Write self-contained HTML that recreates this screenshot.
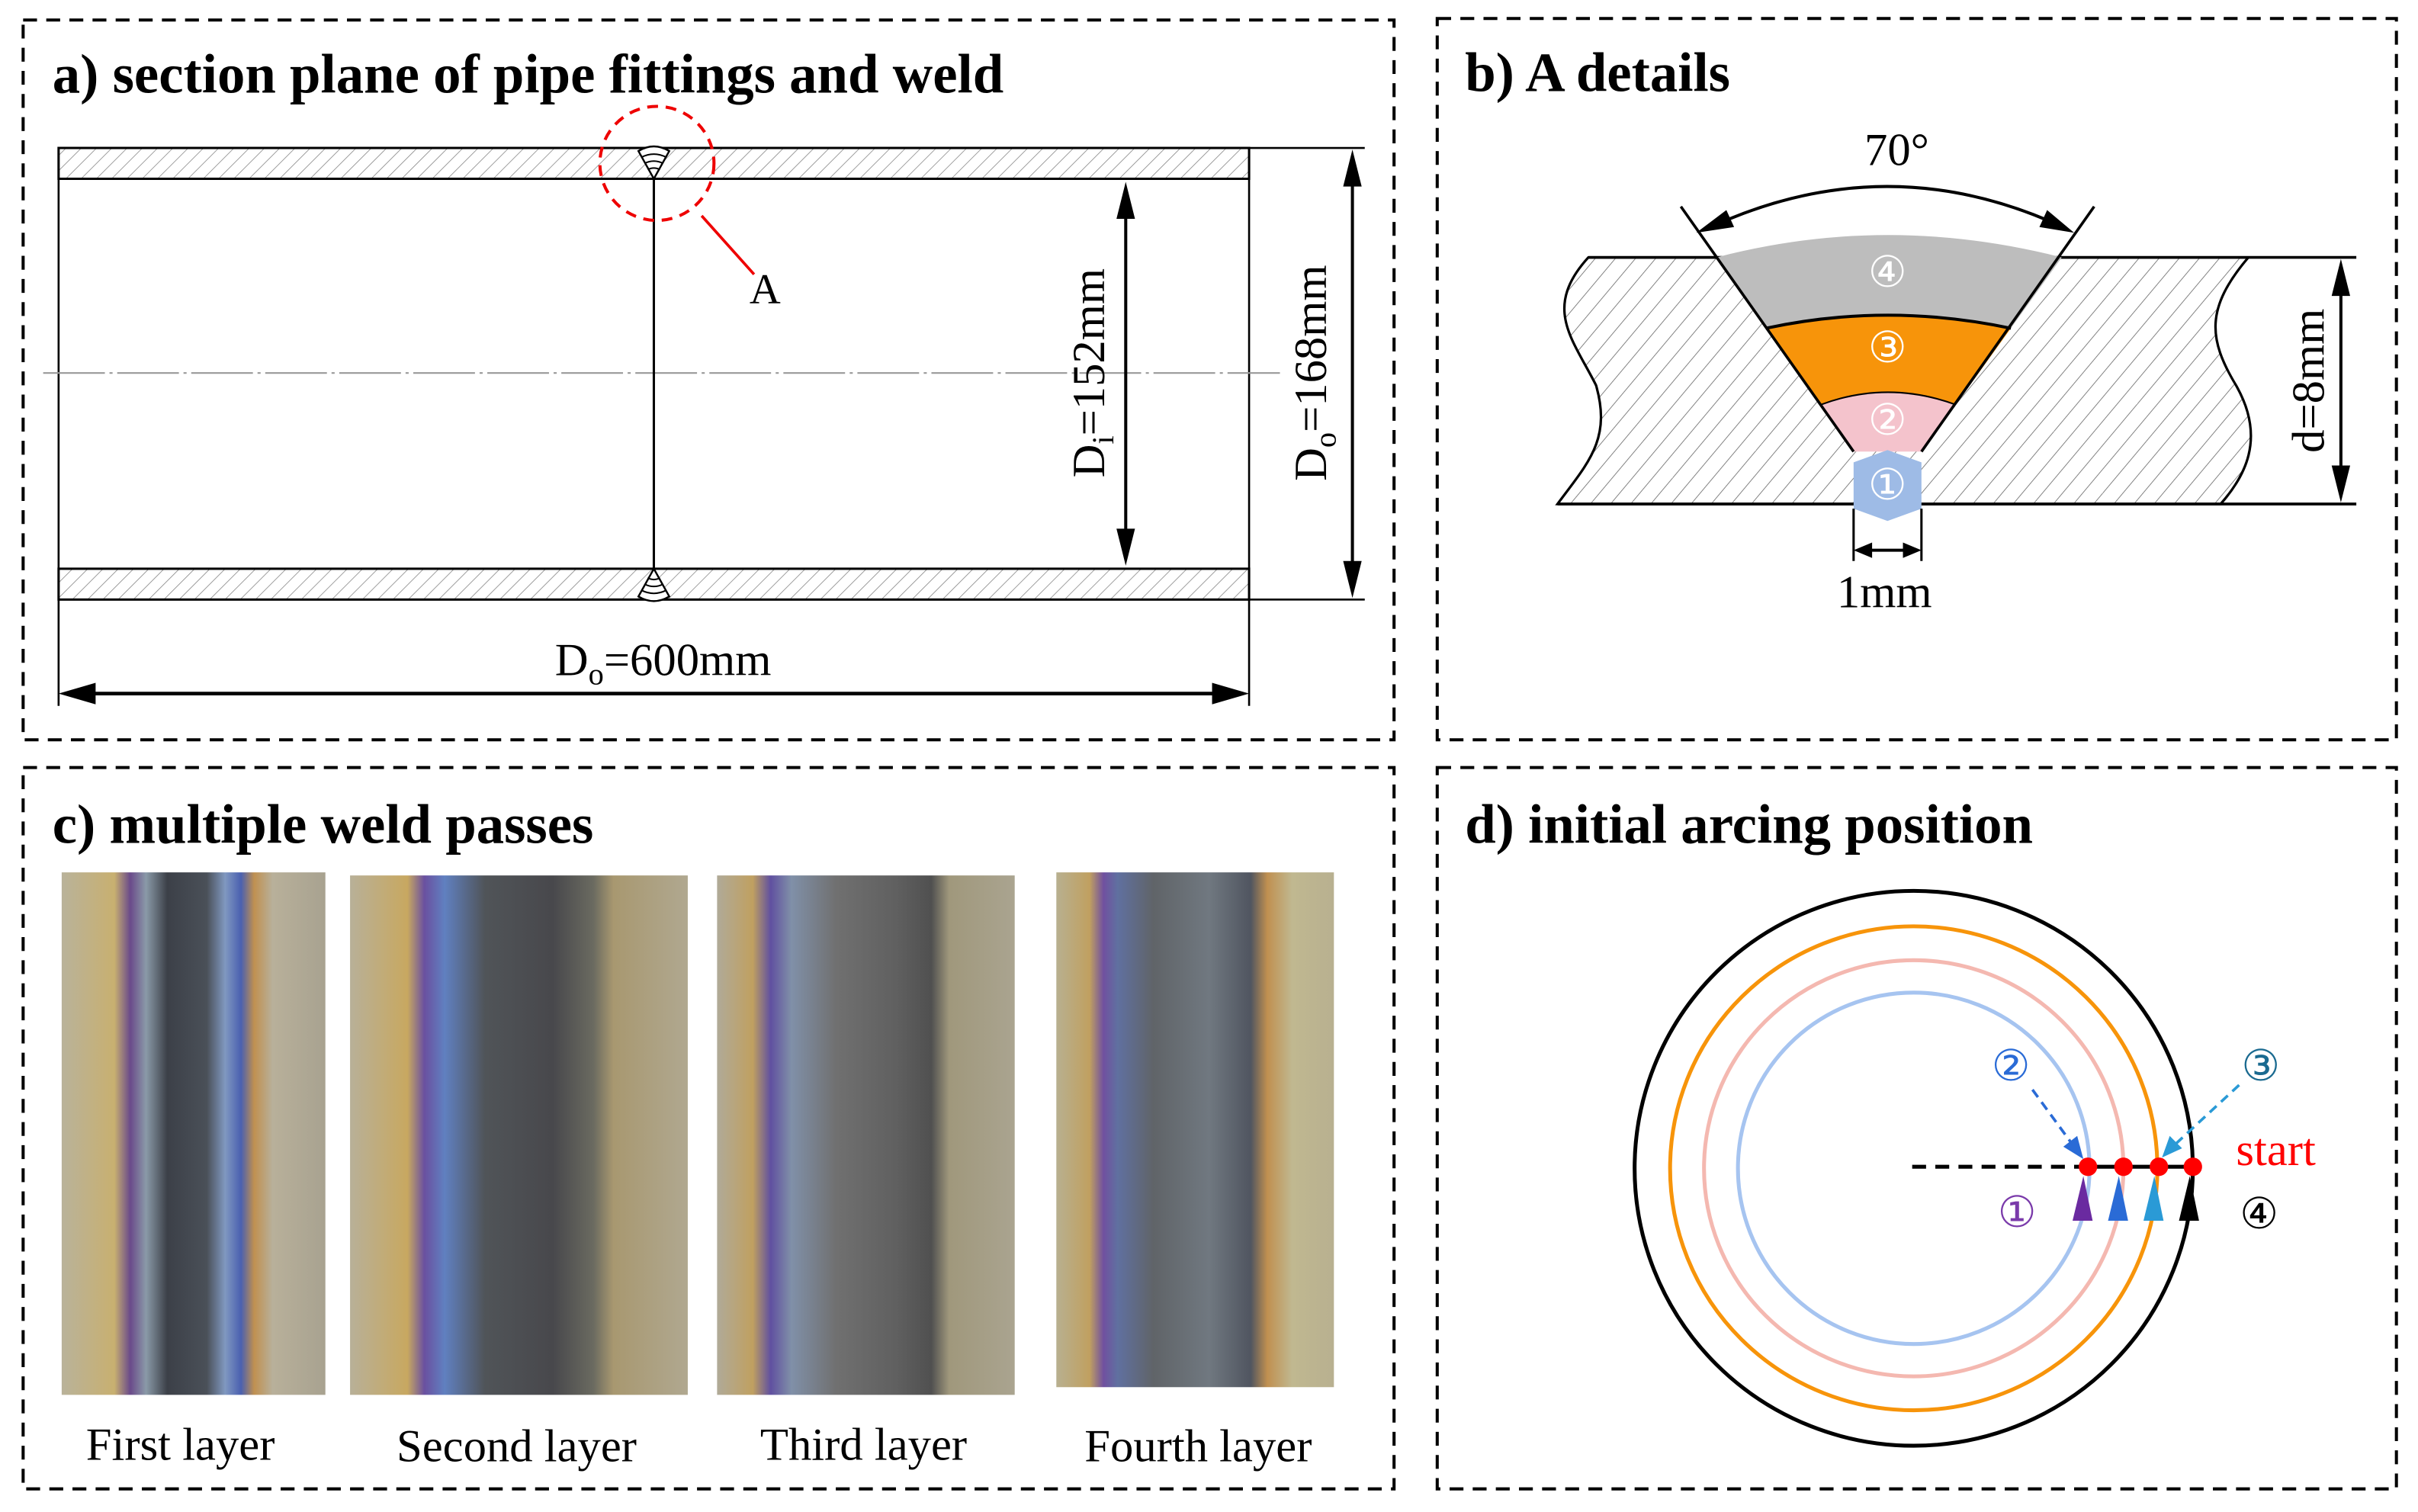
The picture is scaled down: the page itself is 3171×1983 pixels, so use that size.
<!DOCTYPE html>
<html><head><meta charset="utf-8"><style>html,body{margin:0;padding:0;background:#fff}svg{display:block}</style></head>
<body>
<svg width="3171" height="1983" viewBox="0 0 1568 981" preserveAspectRatio="none" xmlns="http://www.w3.org/2000/svg" font-family="Liberation Serif, serif">
<defs>
<pattern id="h" width="7" height="7" patternUnits="userSpaceOnUse" patternTransform="rotate(45)"><rect width="7" height="7" fill="#fff"/><line x1="0" y1="0" x2="0" y2="7" stroke="#888" stroke-width="0.8"/></pattern>
<pattern id="h2" width="10" height="10" patternUnits="userSpaceOnUse" patternTransform="rotate(40)"><rect width="10" height="10" fill="#fff"/><line x1="0" y1="0" x2="0" y2="10" stroke="#777" stroke-width="0.9"/></pattern>
<linearGradient id="p1"><stop offset="0" stop-color="#b9b29a"/><stop offset=".2" stop-color="#c8b070"/><stop offset=".26" stop-color="#6a4a8a"/><stop offset=".32" stop-color="#8a9aa8"/><stop offset=".4" stop-color="#3c4048"/><stop offset=".55" stop-color="#4a5058"/><stop offset=".62" stop-color="#8098c0"/><stop offset=".68" stop-color="#4a60b0"/><stop offset=".73" stop-color="#c09050"/><stop offset=".8" stop-color="#b8b09a"/><stop offset="1" stop-color="#a8a290"/></linearGradient>
<linearGradient id="p2"><stop offset="0" stop-color="#b8b098"/><stop offset=".17" stop-color="#c8a860"/><stop offset=".22" stop-color="#6a50a0"/><stop offset=".28" stop-color="#6080c0"/><stop offset=".4" stop-color="#505458"/><stop offset=".6" stop-color="#48484c"/><stop offset=".72" stop-color="#6a6a60"/><stop offset=".78" stop-color="#a89870"/><stop offset="1" stop-color="#b0a890"/></linearGradient>
<linearGradient id="p3"><stop offset="0" stop-color="#b0aa98"/><stop offset=".12" stop-color="#c0a060"/><stop offset=".18" stop-color="#6050a0"/><stop offset=".25" stop-color="#8090a8"/><stop offset=".4" stop-color="#707070"/><stop offset=".6" stop-color="#606060"/><stop offset=".72" stop-color="#505050"/><stop offset=".78" stop-color="#a0987c"/><stop offset="1" stop-color="#aaa490"/></linearGradient>
<linearGradient id="p4"><stop offset="0" stop-color="#b8b090"/><stop offset=".12" stop-color="#c0a060"/><stop offset=".17" stop-color="#7050a0"/><stop offset=".22" stop-color="#6070a0"/><stop offset=".35" stop-color="#606468"/><stop offset=".55" stop-color="#707880"/><stop offset=".7" stop-color="#505560"/><stop offset=".76" stop-color="#c09050"/><stop offset=".85" stop-color="#c0b890"/><stop offset="1" stop-color="#b8b090"/></linearGradient>
</defs>
<g fill="none" stroke="#000" stroke-width="2" stroke-dasharray="9,6">
<rect x="15" y="13" width="889" height="467"/><rect x="932" y="12" width="622" height="468"/>
<rect x="15" y="498" width="889" height="468"/><rect x="932" y="498" width="622" height="468"/>
</g>
<g font-weight="bold" font-size="36">
<text x="34" y="60">a) section plane of pipe fittings and weld</text>
<text x="950" y="59">b) A details</text>
<text x="34" y="547">c) multiple weld passes</text>
<text x="950" y="547">d) initial arcing position</text>
</g>
<!-- Panel a -->
<rect x="38" y="96" width="772" height="20" fill="url(#h)" stroke="#000" stroke-width="1.5"/>
<rect x="38" y="369" width="772" height="20" fill="url(#h)" stroke="#000" stroke-width="1.5"/>
<line x1="38" y1="116" x2="38" y2="369" stroke="#000" stroke-width="1.3"/>
<line x1="810" y1="116" x2="810" y2="369" stroke="#000" stroke-width="1.3"/>
<line x1="28" y1="242" x2="830" y2="242" stroke="#999" stroke-width="1" stroke-dasharray="40,3,2,3"/>
<line x1="424" y1="116" x2="424" y2="369" stroke="#000" stroke-width="1.5"/>
<path d="M414,98 Q424,92 434,98 L424,116 Z" fill="#fff" stroke="#000" stroke-width="1.2"/>
<path d="M416,102 Q424,98 432,102 M418,106 Q424,103 430,106 M420,110 Q424,108 428,110" stroke="#000" fill="none"/>
<path d="M414,387 Q424,393 434,387 L424,369 Z" fill="#fff" stroke="#000" stroke-width="1.2"/>
<path d="M416,383 Q424,387 432,383 M418,379 Q424,382 430,379 M420,375 Q424,377 428,375" stroke="#000" fill="none"/>
<circle cx="426" cy="106" r="37" fill="none" stroke="#e00" stroke-width="2" stroke-dasharray="7,5"/>
<line x1="455" y1="140" x2="489" y2="178" stroke="#e00" stroke-width="1.8"/>
<text x="486" y="197" font-size="28">A</text>
<line x1="730" y1="125" x2="730" y2="360" stroke="#000" stroke-width="2"/>
<path d="M730,118 L724,142 L736,142 Z M730,367 L724,343 L736,343 Z" fill="#000"/>
<text transform="translate(716,242) rotate(-90)" font-size="30" text-anchor="middle">D<tspan font-size="20" dy="6">i</tspan><tspan dy="-6">=152mm</tspan></text>
<line x1="810" y1="96" x2="885" y2="96" stroke="#000" stroke-width="1.3"/>
<line x1="810" y1="389" x2="885" y2="389" stroke="#000" stroke-width="1.3"/>
<line x1="877" y1="104" x2="877" y2="381" stroke="#000" stroke-width="2"/>
<path d="M877,97 L871,121 L883,121 Z M877,388 L871,364 L883,364 Z" fill="#000"/>
<text transform="translate(860,242) rotate(-90)" font-size="30" text-anchor="middle">D<tspan font-size="20" dy="6">o</tspan><tspan dy="-6">=168mm</tspan></text>
<line x1="38" y1="389" x2="38" y2="458" stroke="#000" stroke-width="1.3"/>
<line x1="810" y1="389" x2="810" y2="458" stroke="#000" stroke-width="1.3"/>
<line x1="45" y1="450" x2="803" y2="450" stroke="#000" stroke-width="2.4"/>
<path d="M38,450 L62,443 L62,457 Z M810,450 L786,443 L786,457 Z" fill="#000"/>
<text x="430" y="438" font-size="30" text-anchor="middle">D<tspan font-size="20" dy="6">o</tspan><tspan dy="-6">=600mm</tspan></text>
<!-- Panel b -->
<path d="M1030,167 L1458,167 C1430,200 1432,220 1450,250 C1470,285 1455,310 1440,327 L1010,327 C1030,300 1045,285 1035,250 C1020,220 1000,200 1030,167 Z" fill="url(#h2)" stroke="#000" stroke-width="1.6"/>
<line x1="1010" y1="327" x2="1528" y2="327" stroke="#000" stroke-width="1.8"/>
<line x1="1030" y1="167" x2="1528" y2="167" stroke="#000" stroke-width="1.8"/>
<path d="M1113,167 Q1224,138 1337,167 L1304,213 Q1224,196 1145,213 Z" fill="#bdbdbd"/>
<path d="M1145,213 Q1224,196 1304,213 L1268,263 Q1224,247 1181,263 Z" fill="#f7940a"/>
<path d="M1145,213 Q1224,196 1304,213 M1181,263 Q1224,247 1268,263" fill="none" stroke="#000" stroke-width="2"/>
<path d="M1181,263 Q1224,247 1268,263 L1246,293 L1202,293 Z" fill="#f4c3cc"/>
<path d="M1202,300 L1224,292 L1246,300 L1246,330 L1224,338 L1202,330 Z" fill="#9ebbe6"/>
<line x1="1090" y1="134" x2="1202" y2="293" stroke="#000" stroke-width="1.8"/>
<line x1="1358" y1="134" x2="1246" y2="293" stroke="#000" stroke-width="1.8"/>
<path d="M1110,147 Q1224,95 1337,147" fill="none" stroke="#000" stroke-width="2"/>
<path d="M1100,151 L1124.5,147.3 L1119.5,136.3 Z M1345,151 L1322.5,147.3 L1327.5,136.3 Z" fill="#000"/>
<text x="1230" y="107" font-size="30" text-anchor="middle">70°</text>
<g fill="#fff" font-size="28" text-anchor="middle" font-family="DejaVu Sans, sans-serif">
<text x="1224" y="186">④</text><text x="1224" y="235">③</text><text x="1224" y="282">②</text><text x="1224" y="324">①</text></g>
<line x1="1518" y1="175" x2="1518" y2="318" stroke="#000" stroke-width="2"/>
<path d="M1518,168 L1512,192 L1524,192 Z M1518,326 L1512,302 L1524,302 Z" fill="#000"/>
<text transform="translate(1507,247) rotate(-90)" font-size="30" text-anchor="middle">d=8mm</text>
<line x1="1202" y1="330" x2="1202" y2="364" stroke="#000" stroke-width="1.5"/>
<line x1="1246" y1="330" x2="1246" y2="364" stroke="#000" stroke-width="1.5"/>
<line x1="1208" y1="357" x2="1240" y2="357" stroke="#000" stroke-width="2"/>
<path d="M1202,357 L1214,352 L1214,362 Z M1246,357 L1234,352 L1234,362 Z" fill="#000"/>
<text x="1222" y="394" font-size="30" text-anchor="middle">1mm</text>
<!-- Panel c -->
<rect x="40" y="566" width="171" height="339" fill="url(#p1)"/>
<rect x="227" y="568" width="219" height="337" fill="url(#p2)"/>
<rect x="465" y="568" width="193" height="337" fill="url(#p3)"/>
<rect x="685" y="566" width="180" height="334" fill="url(#p4)"/>
<g font-size="30" text-anchor="middle">
<text x="117" y="947">First layer</text><text x="335" y="948">Second layer</text><text x="560" y="947">Third layer</text><text x="777" y="948">Fourth layer</text></g>
<!-- Panel d -->
<g fill="none" stroke-width="2.5">
<ellipse cx="1241" cy="758" rx="181" ry="180" stroke="#000"/>
<ellipse cx="1241" cy="758" rx="158" ry="157" stroke="#f7940a"/>
<ellipse cx="1241" cy="758" rx="136" ry="135" stroke="#f4b8b0"/>
<ellipse cx="1241" cy="758" rx="114" ry="114" stroke="#a6c4f0"/>
</g>
<line x1="1240" y1="757" x2="1352" y2="757" stroke="#000" stroke-width="2.5" stroke-dasharray="9,6"/>
<line x1="1352" y1="757" x2="1422" y2="757" stroke="#000" stroke-width="2.5"/>
<g fill="#f00"><circle cx="1354" cy="757" r="6"/><circle cx="1377" cy="757" r="6"/><circle cx="1400" cy="757" r="6"/><circle cx="1422" cy="757" r="6"/></g>
<path d="M1344,792 L1351,763 L1357,792 Z" fill="#6a2aa0"/>
<path d="M1367,792 L1374,763 L1380,792 Z" fill="#2a6bd6"/>
<path d="M1390,792 L1397,763 L1403,792 Z" fill="#2a9ad6"/>
<path d="M1413,792 L1420,763 L1426,792 Z" fill="#000"/>
<line x1="1318" y1="707" x2="1345" y2="744" stroke="#2a6bd6" stroke-width="1.8" stroke-dasharray="6,4"/>
<path d="M1351,752 L1338,744 L1347,737 Z" fill="#2a6bd6"/>
<line x1="1452" y1="704" x2="1410" y2="743" stroke="#2a9ad6" stroke-width="1.8" stroke-dasharray="6,4"/>
<path d="M1402,751 L1407,737 L1415,745 Z" fill="#2a9ad6"/>
<g font-size="28" text-anchor="middle" font-family="DejaVu Sans, sans-serif">
<text x="1304" y="701" fill="#2a6bd6">②</text>
<text x="1466" y="701" fill="#1a6a90">③</text>
<text x="1308" y="796" fill="#7a3aaa">①</text>
<text x="1465" y="797" fill="#000">④</text></g>
<text x="1450" y="756" font-size="30" fill="#f00">start</text>
</svg>
</body></html>
